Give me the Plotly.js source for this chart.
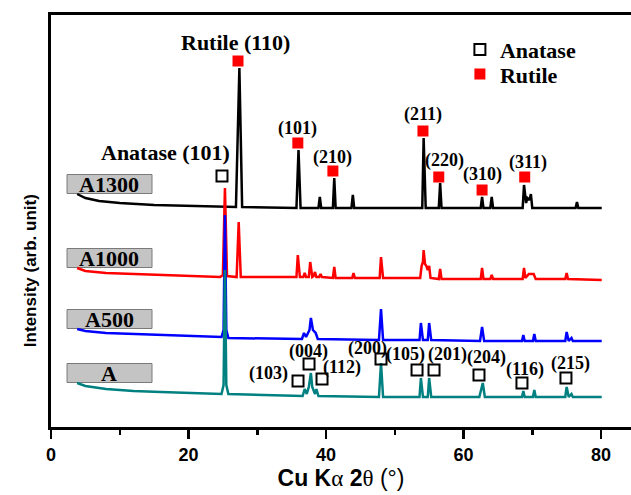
<!DOCTYPE html>
<html>
<head>
<meta charset="utf-8">
<script src="https://cdn.plot.ly/plotly-3.0.1.min.js"></script>
<style>html,body{margin:0;padding:0;background:#fff;}#chart{width:631px;height:495px;}</style>
</head>
<body>
<div id="chart"></div>
<script>
// ---- Data (2θ in degrees, intensity in arbitrary units) ----
const tt_A1300  = [3.8,5,7,10,15,20,26.9,27.4,27.8,35.7,36.0,36.3,38.9,39.1,39.3,41.0,41.2,41.4,43.7,43.9,44.1,54.0,54.2,54.5,56.4,56.6,56.8,62.5,62.7,62.9,63.9,64.1,64.3,68.6,68.8,69.1,69.3,69.6,69.8,70.0,76.3,76.5,76.7,80.1];
const int_A1300 = [233,229,226,224,222,221,220,359,220,219,277,219,219,230,219,219,249,219,219,232,219,219,289,219,219,244,219,219,230,219,219,230,219,219,242,224,229,227,233,219,219,225,219,219];

const tt_A1000  = [3.8,5,8,12,16,20,24.6,25.0,25.3,25.6,27.0,27.3,27.6,35.7,35.9,36.2,36.7,36.9,37.1,37.5,37.7,38.0,38.2,38.4,38.6,39.0,39.2,39.4,41.0,41.2,41.4,43.8,44.0,44.2,47.8,48.0,48.3,53.7,53.9,54.1,54.2,54.4,54.6,54.8,55.0,55.2,56.4,56.6,56.8,62.5,62.7,62.9,63.9,64.1,64.3,68.6,68.8,69.0,69.5,70.2,70.5,74.8,75.0,75.2,80.1];
const int_A1000 = [159,156,154,153,152,151,150,152,239,151,150,205,150,150,172,150,150,154,150,150,165,150,151,155,150,150,153,150,149,160,149,149,154,149,149,170,149,149,161,165,177,163,161,157,161,149,148,158,148,148,159,148,148,152,148,148,159,149,153,153,148,148,154,148,147];

const tt_A500  = [3.8,5,8,12,16,20,24.8,25.1,25.3,25.5,25.8,36.5,36.8,37.1,37.6,37.8,38.1,38.5,38.8,47.7,48.0,48.3,53.6,53.8,54.1,54.8,55.0,55.3,62.4,62.7,63.0,68.5,68.7,68.9,70.1,70.3,70.5,74.8,75.0,75.3,75.7,75.9,80.1];
const int_A500 = [98,96,94,93,92,91,90,97,212,97,89,88,94,90,97,109,97,94,88,87,118,87,87,104,87,87,104,87,86,100,86,86,92,86,86,93,86,86,95,86,89,86,86];

const tt_A  = [3.8,5,8,12,16,20,24.8,25.1,25.3,25.5,25.8,36.6,36.9,37.2,37.5,37.8,38.0,38.4,38.6,38.9,47.7,48.0,48.3,53.6,53.8,54.1,54.8,55.0,55.3,62.3,62.6,62.8,63.1,68.5,68.7,68.9,70.1,70.3,70.5,74.8,75.0,75.3,75.7,75.9,80.1];
const int_A = [44,41,38,36,35,34,33,42,157,42,33,31,38,33,40,54,40,33,38,31,30,64,30,30,49,30,30,49,30,30,37,44,30,30,36,30,30,37,30,30,40,30,33,30,30];

// phase markers
const rutile_tt  = [27.2,35.9,41.0,54.1,56.4,62.7,68.9];
const rutile_int = [366,284,256,296,250,237,250];
const anatase_tt  = [24.87,35.93,37.53,39.42,48.0,53.24,55.71,62.25,68.5,74.9];
const anatase_int = [251,46,63,48,68,57,57,52,44,49];

// reflection labels
const rutile_labels     = ["Rutile (110)","(101)","(210)","(211)","(220)","(310)","(311)"];
const rutile_label_tt   = [26.9,35.9,41.0,54.1,57.3,62.7,69.4];
const rutile_label_int  = [385,299,270,313,267,253,265];
const anatase_labels    = ["Anatase (101)","(103)","(004)","(112)","(200)","(105)","(201)","(204)","(116)","(215)"];
const anatase_label_tt  = [16.6,31.6,37.4,42.3,46.1,51.6,57.7,63.4,68.9,75.5];
const anatase_label_int = [275,54,76,60,79,73,73,70,58,64];

// sample labels
const sample_names = ["A1300","A1000","A500","A"];
const sample_label_int = [243,169,108,54];

const series = [
  {name:"A1300", x:tt_A1300, y:int_A1300, color:"#000000"},
  {name:"A1000", x:tt_A1000, y:int_A1000, color:"#ff0000"},
  {name:"A500",  x:tt_A500,  y:int_A500,  color:"#0000ff"},
  {name:"A",     x:tt_A,     y:int_A,     color:"#008080"}
];

const traces = series.map(s => ({
  type:"scatter", mode:"lines", name:s.name, x:s.x, y:s.y,
  line:{color:s.color, width:2.5}, showlegend:false, hoverinfo:"skip"
}));
traces.push({
  type:"scatter", mode:"markers", name:"Anatase", x:anatase_tt, y:anatase_int, legend:"legend",
  marker:{symbol:"square-open", size:11, color:"#000000", line:{width:2, color:"#000000"}}
});
traces.push({
  type:"scatter", mode:"markers", name:"Rutile", x:rutile_tt, y:rutile_int, legend:"legend2",
  marker:{symbol:"square", size:11, color:"#ff0000"}
});

const serif = "Liberation Serif, Times New Roman, serif";
const sans = "Liberation Sans, Arial, sans-serif";

const annotations = [];
const bigLabels = {"Rutile (110)":1, "Anatase (101)":1};
rutile_labels.forEach((t,i) => annotations.push({
  x:rutile_label_tt[i], y:rutile_label_int[i], xref:"x", yref:"y", text:t, showarrow:false,
  font:{family:serif, size: bigLabels[t] ? 22 : 18, color:"#000", weight:"bold"}
}));
anatase_labels.forEach((t,i) => annotations.push({
  x:anatase_label_tt[i], y:anatase_label_int[i], xref:"x", yref:"y", text:t, showarrow:false,
  font:{family:serif, size: bigLabels[t] ? 22 : 18, color:"#000", weight:"bold"}
}));
const shapes = [];
sample_names.forEach((t,i) => {
  shapes.push({type:"rect", xref:"x", yref:"y", x0:2.33, x1:14.69,
    y0:sample_label_int[i]-9.5, y1:sample_label_int[i]+9.5,
    fillcolor:"#c4c4c4", line:{color:"#7a7a7a", width:1}, layer:"below"});
  annotations.push({x:8.5, y:sample_label_int[i], xref:"x", yref:"y", text:t, showarrow:false,
    font:{family:serif, size:22, color:"#000", weight:"bold"}});
});
annotations.push({
  x:-0.034, y:0.379, xref:"paper", yref:"paper", xanchor:"center", yanchor:"middle",
  text:"Intensity (arb. unit)", textangle:-90,
  showarrow:false, font:{family:sans, size:17, color:"#000", weight:"bold"}
});

const legendFont = {family:serif, size:22, color:"#000", weight:"bold"};
const layout = {
  width:631, height:495,
  margin:{l:51, r:0, t:15, b:68},
  paper_bgcolor:"#fff", plot_bgcolor:"#fff",
  showlegend:true,
  legend:{x:0.705, y:0.967, xanchor:"left", yanchor:"top", bgcolor:"rgba(0,0,0,0)", font:legendFont},
  legend2:{x:0.705, y:0.907, xanchor:"left", yanchor:"top", bgcolor:"rgba(0,0,0,0)", font:legendFont},
  xaxis:{
    range:[0,84.36], showgrid:false, zeroline:false,
    showline:true, linecolor:"#000", linewidth:3, mirror:true,
    ticks:"outside", ticklen:9, tickwidth:2.5, tickcolor:"#000",
    tickvals:[0,20,40,60,80], ticktext:["0","20","40","60","80"],
    minor:{tickvals:[10,30,50,70], ticks:"outside", ticklen:5, tickwidth:2.5, tickcolor:"#000"},
    tickfont:{family:sans, size:18, color:"#000", weight:"bold"},
    title:{text:"<b>Cu K</b><span style=\"font-family:'Liberation Serif'\">α</span> <b>2</b><span style=\"font-family:'Liberation Serif'\">θ</span> (°)",
      font:{family:sans, size:23, color:"#000"}, standoff:6}
  },
  yaxis:{
    range:[0,412], showgrid:false, zeroline:false, showticklabels:false, ticks:"",
    showline:true, linecolor:"#000", linewidth:3, mirror:false
  },
  shapes:shapes,
  annotations:annotations
};

Plotly.newPlot("chart", traces, layout, {displayModeBar:false, staticPlot:true});
</script>
</body>
</html>
